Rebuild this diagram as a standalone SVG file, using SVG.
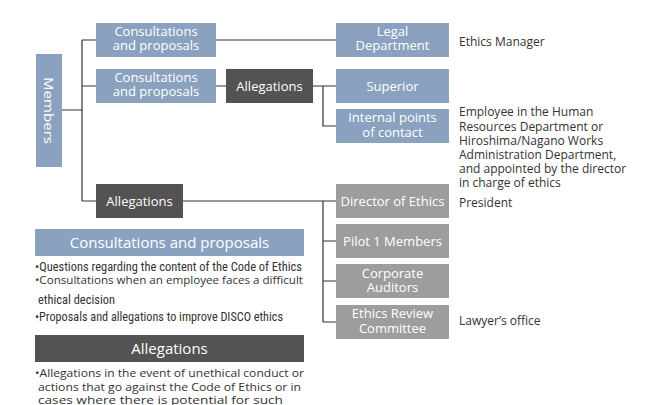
<svg xmlns="http://www.w3.org/2000/svg" width="656" height="405" viewBox="0 0 656 405">
<style>
.blue{fill:#8aa2c0}
.dark{fill:#545252}
.gray{fill:#9d9d9d}
.bt{font-family:"Open Sans","Noto Sans",sans-serif;font-size:13px;fill:#ffffff;text-anchor:middle}
.note{font-family:"Open Sans","Noto Sans",sans-serif;font-size:12px;fill:#333333}
.hd{font-family:"Open Sans","Noto Sans",sans-serif;font-size:15px;fill:#ffffff;text-anchor:middle}
.bl{font-family:"Open Sans","Noto Sans",sans-serif;font-size:11.5px;fill:#333333}
.cn{font-family:"Liberation Sans Narrow","Roboto Condensed","Open Sans",sans-serif;font-size:12px;fill:#333333}
.ln{fill:none;stroke:#333333;stroke-width:1.2}
</style>
<rect width="656" height="405" fill="#ffffff"/>
<g id="connectors">
<path class="ln" d="M62 110H82M82 40V201M82 40H96M82 86H96M82 201H96M216 40H336M216 86H226M313 86H336M323 86V126H336M183 201H336M323 201V322M323 241H336M323 281H336M323 322H336"/>
</g>
<g id="members"><rect class="blue" x="36" y="54" width="26" height="113"/><text class="bt" font-size="15" transform="translate(44,110.5) rotate(90)" y="0" textLength="67" lengthAdjust="spacingAndGlyphs">Members</text></g>
<g id="consult1"><rect class="blue" x="96" y="23" width="120" height="34"/><text class="bt" x="156" y="36">Consultations</text><text class="bt" x="156" y="50">and proposals</text></g>
<g id="consult2"><rect class="blue" x="96" y="69" width="120" height="34"/><text class="bt" x="156" y="82">Consultations</text><text class="bt" x="156" y="96">and proposals</text></g>
<g id="alleg1"><rect class="dark" x="226" y="69" width="87" height="34"/><text class="bt" x="269.5" y="91">Allegations</text></g>
<g id="alleg2"><rect class="dark" x="96" y="184" width="87" height="34"/><text class="bt" x="139.5" y="206">Allegations</text></g>
<g id="legal"><rect class="blue" x="336" y="23" width="113" height="34"/><text class="bt" x="392.5" y="36">Legal</text><text class="bt" x="392.5" y="50">Department</text></g>
<g id="superior"><rect class="blue" x="336" y="69" width="113" height="34"/><text class="bt" x="392.5" y="91">Superior</text></g>
<g id="internal"><rect class="blue" x="336" y="109" width="113" height="34"/><text class="bt" x="392.5" y="122">Internal points</text><text class="bt" x="392.5" y="137">of contact</text></g>
<g id="director"><rect class="gray" x="336" y="184" width="113" height="34"/><text class="bt" x="392.5" y="206">Director of Ethics</text></g>
<g id="pilot"><rect class="gray" x="336" y="224" width="113" height="34"/><text class="bt" x="392.5" y="246">Pilot 1 Members</text></g>
<g id="auditors"><rect class="gray" x="336" y="264" width="113" height="34"/><text class="bt" x="392.5" y="278">Corporate</text><text class="bt" x="392.5" y="292">Auditors</text></g>
<g id="review"><rect class="gray" x="336" y="305" width="113" height="34"/><text class="bt" x="392.5" y="318">Ethics Review</text><text class="bt" x="392.5" y="333">Committee</text></g>
<g id="notes">
<text class="note" x="459" y="46">Ethics Manager</text>
<text class="note" x="459" y="116">Employee in the Human</text>
<text class="note" x="459" y="131">Resources Department or</text>
<text class="note" x="459" y="145">Hiroshima/Nagano Works</text>
<text class="note" x="459" y="159">Administration Department,</text>
<text class="note" x="459" y="173">and appointed by the director</text>
<text class="note" x="459" y="187">in charge of ethics</text>
<text class="note" x="459" y="207">President</text>
<text class="note" x="459" y="325">Lawyer’s office</text>
</g>
<g id="legend-consult">
<rect class="blue" x="35" y="229" width="269" height="27"/>
<text class="hd" x="169.5" y="248">Consultations and proposals</text>
<text class="cn" x="35" y="271" textLength="267" lengthAdjust="spacingAndGlyphs">•Questions regarding the content of the  Code of Ethics</text>
<text class="bl" x="35" y="284" textLength="268" lengthAdjust="spacingAndGlyphs">•Consultations when an employee faces  a difficult</text>
<text class="cn" x="38" y="304" textLength="77" lengthAdjust="spacingAndGlyphs">ethical decision</text>
<text class="cn" x="35" y="321" textLength="248" lengthAdjust="spacingAndGlyphs">•Proposals and allegations to improve DISCO ethics</text>
</g>
<g id="legend-alleg">
<rect class="dark" x="35" y="335" width="269" height="27"/>
<text class="hd" x="169.5" y="354">Allegations</text>
<text class="bl" x="35" y="377" textLength="269" lengthAdjust="spacingAndGlyphs">•Allegations in the event of unethical conduct or</text>
<text class="bl" x="38" y="391" textLength="263" lengthAdjust="spacingAndGlyphs">actions that go against the Code of Ethics or in</text>
<text class="bl" x="38" y="404" textLength="245" lengthAdjust="spacingAndGlyphs">cases where there is potential for such</text>
</g>
</svg>
